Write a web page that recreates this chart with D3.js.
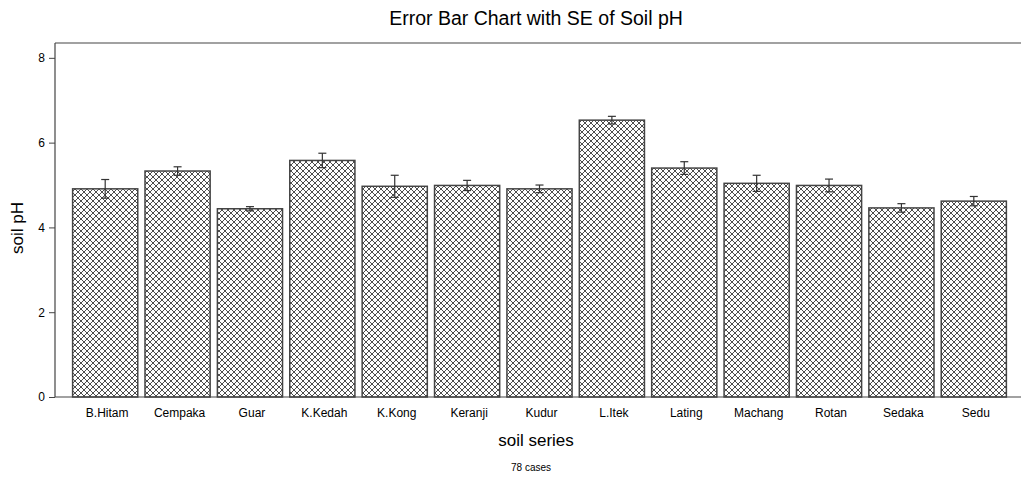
<!DOCTYPE html>
<html>
<head>
<meta charset="utf-8">
<script src="https://cdn.jsdelivr.net/npm/d3@7"></script>
<style>
  body { margin: 0; background: #fff; }
  svg text { font-family: "Liberation Sans", Arial, sans-serif; fill: #000; }
</style>
</head>
<body>
<svg id="chart" width="1021" height="480"></svg>
<script>
var series = ['B.Hitam', 'Cempaka', 'Guar', 'K.Kedah', 'K.Kong', 'Keranji', 'Kudur',
              'L.Itek', 'Lating', 'Machang', 'Rotan', 'Sedaka', 'Sedu'];
var meanPH = [4.91, 5.33, 4.44, 5.58, 4.97, 4.99, 4.91, 6.53, 5.40, 5.04, 4.99, 4.46, 4.62];
var sePH = [0.22, 0.10, 0.05, 0.17, 0.26, 0.12, 0.09, 0.09, 0.15, 0.19, 0.15, 0.10, 0.11];
var yTicks = [0, 2, 4, 6, 8];

(function() {
  var svg = d3.select('#chart');
  // plot box edges (window.top is reserved, so not called "top")
  var pLeft = 55, pTop = 43, pBottom = 397, pRight = 1021;

  var x = d3.scaleBand().domain(series).range([69, 1010]).paddingInner(0.1).paddingOuter(0.05);
  var y = d3.scaleLinear().domain([0, 8.35]).range([pBottom, pTop]);

  // crosshatch fill
  var defs = svg.append('defs');
  var pat = defs.append('pattern')
    .attr('id', 'hatch').attr('patternUnits', 'userSpaceOnUse')
    .attr('width', 6).attr('height', 6);
  pat.append('rect').attr('width', 6).attr('height', 6).attr('fill', '#fff');
  pat.append('path').attr('d', 'M0,0L6,6M6,0L0,6')
    .attr('stroke', '#3a3a3a').attr('stroke-width', 0.9);

  var data = series.map(function(s, i) { return {name: s, mean: meanPH[i], se: sePH[i]}; });

  svg.append('g').selectAll('rect').data(data).enter().append('rect')
    .attr('x', function(d) { return x(d.name); })
    .attr('y', function(d) { return y(d.mean); })
    .attr('width', x.bandwidth())
    .attr('height', function(d) { return pBottom - y(d.mean); })
    .attr('fill', 'url(#hatch)')
    .attr('stroke', '#444').attr('stroke-width', 1.5);

  // error bars
  var eb = svg.append('g').attr('stroke', '#333').attr('stroke-width', 1.2);
  data.forEach(function(d) {
    var cx = x(d.name) + x.bandwidth() / 2;
    eb.append('line').attr('x1', cx).attr('x2', cx).attr('y1', y(d.mean + d.se)).attr('y2', y(d.mean - d.se));
    eb.append('line').attr('x1', cx - 4).attr('x2', cx + 4).attr('y1', y(d.mean + d.se)).attr('y2', y(d.mean + d.se));
    eb.append('line').attr('x1', cx - 4).attr('x2', cx + 4).attr('y1', y(d.mean - d.se)).attr('y2', y(d.mean - d.se));
  });

  // frame: top line and bottom axis line
  svg.append('line').attr('x1', pLeft).attr('x2', pRight).attr('y1', pTop).attr('y2', pTop)
    .attr('stroke', '#444').attr('stroke-width', 1.2);
  svg.append('line').attr('x1', pLeft).attr('x2', pRight).attr('y1', pBottom).attr('y2', pBottom)
    .attr('stroke', '#444').attr('stroke-width', 1.2);

  var yAxis = svg.append('g').attr('transform', 'translate(' + pLeft + ',0)')
    .call(d3.axisLeft(y).tickValues(yTicks).tickSize(6).tickPadding(4).tickFormat(d3.format('d')));
  yAxis.select('.domain').attr('stroke', '#444').attr('stroke-width', 1.2).attr('d', 'M0,' + pTop + 'V' + pBottom);
  yAxis.selectAll('.tick line').attr('stroke', '#444');
  yAxis.selectAll('text').style('font-size', '12px');

  var xAxis = svg.append('g').attr('transform', 'translate(0,' + pBottom + ')')
    .call(d3.axisBottom(x).tickSize(0).tickPadding(11));
  xAxis.select('.domain').remove();
  xAxis.selectAll('text').attr('dx', 2).style('font-size', '12px');

  svg.append('text').attr('x', 536).attr('y', 25).attr('text-anchor', 'middle')
    .style('font-size', '19.5px').text('Error Bar Chart with SE of Soil pH');
  svg.append('text').attr('transform', 'translate(23,228) rotate(-90)').attr('text-anchor', 'middle')
    .style('font-size', '17px').text('soil pH');
  svg.append('text').attr('x', 536).attr('y', 446).attr('text-anchor', 'middle')
    .style('font-size', '17px').text('soil series');
  svg.append('text').attr('x', 531).attr('y', 471).attr('text-anchor', 'middle')
    .style('font-size', '10px').text('78 cases');
})();
</script>
</body>
</html>
